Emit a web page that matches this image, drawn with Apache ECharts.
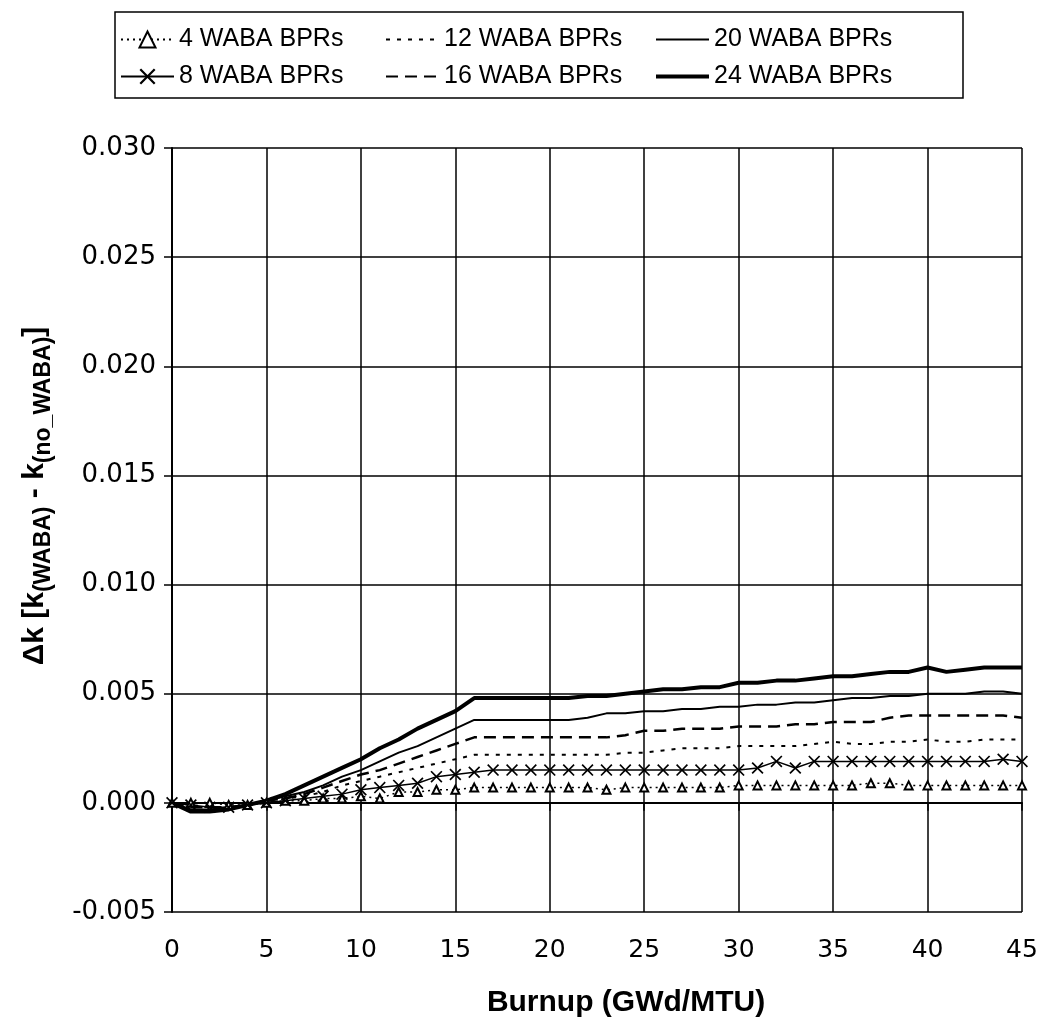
<!DOCTYPE html>
<html>
<head>
<meta charset="utf-8">
<script src="https://cdn.jsdelivr.net/npm/echarts@6/dist/echarts.min.js"></script>
<style>
html, body { margin: 0; padding: 0; background: #fff; }
#plot { width: 1046px; height: 1032px; }
</style>
</head>
<body>
<div id="plot"></div>
<script>
// burnup points (GWd/MTU)
var burnup = [0, 1, 2, 3, 4, 5, 6, 7, 8, 9, 10, 11, 12, 13, 14, 15, 16, 17, 18, 19, 20, 21, 22,
    23, 24, 25, 26, 27, 28, 29, 30, 31, 32, 33, 34, 35, 36, 37, 38, 39, 40, 41, 42, 43, 44, 45];

var waba4 = [0, 0.0000, 0.0000, -0.0001, -0.0001, 0.0000, 0.0001, 0.0001, 0.0002, 0.0002,
    0.0003, 0.0002, 0.0005, 0.0005, 0.0006, 0.0006, 0.0007, 0.0007, 0.0007, 0.0007,
    0.0007, 0.0007, 0.0007, 0.0006, 0.0007, 0.0007, 0.0007, 0.0007, 0.0007, 0.0007,
    0.0008, 0.0008, 0.0008, 0.0008, 0.0008, 0.0008, 0.0008, 0.0009, 0.0009, 0.0008,
    0.0008, 0.0008, 0.0008, 0.0008, 0.0008, 0.0008];
var waba8 = [0, -0.0001, -0.0002, -0.0002, -0.0001, 0.0000, 0.0001, 0.0002, 0.0003, 0.0004,
    0.0006, 0.0007, 0.0008, 0.0009, 0.0012, 0.0013, 0.0014, 0.0015, 0.0015, 0.0015,
    0.0015, 0.0015, 0.0015, 0.0015, 0.0015, 0.0015, 0.0015, 0.0015, 0.0015, 0.0015,
    0.0015, 0.0016, 0.0019, 0.0016, 0.0019, 0.0019, 0.0019, 0.0019, 0.0019, 0.0019,
    0.0019, 0.0019, 0.0019, 0.0019, 0.0020, 0.0019];
var waba12 = [0, -0.0001, -0.0002, -0.0002, -0.0001, 0.0000, 0.0002, 0.0003, 0.0005, 0.0008,
    0.0010, 0.0012, 0.0014, 0.0016, 0.0018, 0.0020, 0.0022, 0.0022, 0.0022, 0.0022,
    0.0022, 0.0022, 0.0022, 0.0022, 0.0023, 0.0023, 0.0024, 0.0025, 0.0025, 0.0025,
    0.0026, 0.0026, 0.0026, 0.0026, 0.0027, 0.0028, 0.0027, 0.0027, 0.0028, 0.0028,
    0.0029, 0.0028, 0.0028, 0.0029, 0.0029, 0.0029];
var waba16 = [0, -0.0002, -0.0002, -0.0002, -0.0001, 0.0001, 0.0002, 0.0004, 0.0007, 0.0010,
    0.0013, 0.0015, 0.0018, 0.0021, 0.0024, 0.0027, 0.0030, 0.0030, 0.0030, 0.0030,
    0.0030, 0.0030, 0.0030, 0.0030, 0.0031, 0.0033, 0.0033, 0.0034, 0.0034, 0.0034,
    0.0035, 0.0035, 0.0035, 0.0036, 0.0036, 0.0037, 0.0037, 0.0037, 0.0039, 0.0040,
    0.0040, 0.0040, 0.0040, 0.0040, 0.0040, 0.0039];
var waba20 = [0, -0.0003, -0.0003, -0.0002, -0.0001, 0.0001, 0.0003, 0.0005, 0.0008, 0.0012,
    0.0015, 0.0019, 0.0023, 0.0026, 0.0030, 0.0034, 0.0038, 0.0038, 0.0038, 0.0038,
    0.0038, 0.0038, 0.0039, 0.0041, 0.0041, 0.0042, 0.0042, 0.0043, 0.0043, 0.0044,
    0.0044, 0.0045, 0.0045, 0.0046, 0.0046, 0.0047, 0.0048, 0.0048, 0.0049, 0.0049,
    0.0050, 0.0050, 0.0050, 0.0051, 0.0051, 0.0050];
var waba24 = [0, -0.0004, -0.0004, -0.0003, -0.0001, 0.0001, 0.0004, 0.0008, 0.0012, 0.0016,
    0.0020, 0.0025, 0.0029, 0.0034, 0.0038, 0.0042, 0.0048, 0.0048, 0.0048, 0.0048,
    0.0048, 0.0048, 0.0049, 0.0049, 0.0050, 0.0051, 0.0052, 0.0052, 0.0053, 0.0053,
    0.0055, 0.0055, 0.0056, 0.0056, 0.0057, 0.0058, 0.0058, 0.0059, 0.0060, 0.0060,
    0.0062, 0.0060, 0.0061, 0.0062, 0.0062, 0.0062];

var seriesNames = ['4 WABA BPRs', '8 WABA BPRs', '12 WABA BPRs', '16 WABA BPRs', '20 WABA BPRs', '24 WABA BPRs'];

var FONT = 'Liberation Sans';
var crossPath = 'path://M0,1L1,0L5,4L9,0L10,1L6,5L10,9L9,10L5,6L1,10L0,9L4,5Z';

function pairs(ys) {
    return burnup.map(function (x, i) { return [x, ys[i]]; });
}

function legendCol(left, items) {
    return {
        orient: 'vertical',
        left: left,
        top: 22,
        itemWidth: 53,
        itemHeight: 20,
        itemGap: 12,
        data: items,
        textStyle: { fontFamily: FONT, fontSize: 25, color: '#000' }
    };
}

// plain line series: symbol hidden, opacity 0 keeps the legend icon a bare line
function plainLine(name, ys, lineStyle) {
    return {
        name: name,
        type: 'line',
        data: pairs(ys),
        symbol: 'none',
        itemStyle: { color: '#000', opacity: 0 },
        lineStyle: lineStyle
    };
}

var chart = echarts.init(document.getElementById('plot'));
chart.setOption({
    animation: false,
    backgroundColor: '#fff',
    graphic: [{
        type: 'rect',
        shape: { x: 115, y: 12, width: 848, height: 86 },
        style: { fill: 'none', stroke: '#000', lineWidth: 1.5 }
    }],
    legend: [
        legendCol(115, [seriesNames[0], seriesNames[1]]),
        legendCol(380, [seriesNames[2], seriesNames[3]]),
        legendCol(649, [
            { name: seriesNames[4], lineStyle: { width: 2 } },
            { name: seriesNames[5], lineStyle: { width: 4 } }
        ])
    ],
    grid: { left: 172, right: 24, top: 148, bottom: 120 },
    xAxis: {
        type: 'value',
        min: 0,
        max: 45,
        interval: 5,
        name: 'Burnup (GWd/MTU)',
        nameLocation: 'middle',
        nameGap: 76,
        nameTextStyle: { fontFamily: FONT, fontSize: 30, fontWeight: 'bold', color: '#000', padding: [0, 0, 0, 58] },
        axisLine: { lineStyle: { color: '#000', width: 2 } },
        axisTick: { length: 8, lineStyle: { color: '#000', width: 1.5 } },
        axisLabel: { margin: 26, fontFamily: 'DejaVu Sans', fontSize: 25, color: '#000' },
        splitLine: { lineStyle: { color: '#000', width: 1.5 } }
    },
    yAxis: {
        type: 'value',
        min: -0.005,
        max: 0.030,
        interval: 0.005,
        name: '{b|Δk [k}{s|(WABA)}{b| - k}{s|(no_WABA)}{b|]}',
        nameLocation: 'middle',
        nameGap: 122,
        nameTextStyle: {
            padding: [0, 0, 0, 68],
            rich: {
                b: { fontFamily: FONT, fontSize: 30, fontWeight: 'bold', color: '#000', lineHeight: 36, verticalAlign: 'bottom' },
                s: { fontFamily: FONT, fontSize: 23, fontWeight: 'bold', color: '#000', lineHeight: 36, verticalAlign: 'bottom', padding: [0, 0, -5, 0] }
            }
        },
        axisLine: { show: true, lineStyle: { color: '#000', width: 2 } },
        axisTick: { show: true, length: 8, lineStyle: { color: '#000', width: 1.5 } },
        axisLabel: {
            margin: 16,
            fontFamily: 'DejaVu Sans',
            fontSize: 26,
            color: '#000',
            formatter: function (v) { return v.toFixed(3); }
        },
        splitLine: { lineStyle: { color: '#000', width: 1.5 } }
    },
    series: [{
        name: seriesNames[0],
        type: 'line',
        data: pairs(waba4),
        symbol: 'emptyTriangle',
        symbolSize: 8,
        itemStyle: { color: '#000', borderWidth: 2 },
        lineStyle: { color: '#000', width: 1.5, type: [2, 4] }
    }, {
        name: seriesNames[1],
        type: 'line',
        data: pairs(waba8),
        symbol: crossPath,
        symbolSize: 12,
        itemStyle: { color: '#000' },
        lineStyle: { color: '#000', width: 1.5 }
    },
    plainLine(seriesNames[2], waba12, { color: '#000', width: 2, type: [4, 7] }),
    plainLine(seriesNames[3], waba16, { color: '#000', width: 2.5, type: [12, 7] }),
    plainLine(seriesNames[4], waba20, { color: '#000', width: 2 }),
    plainLine(seriesNames[5], waba24, { color: '#000', width: 4 })
    ]
});
</script>
</body>
</html>
